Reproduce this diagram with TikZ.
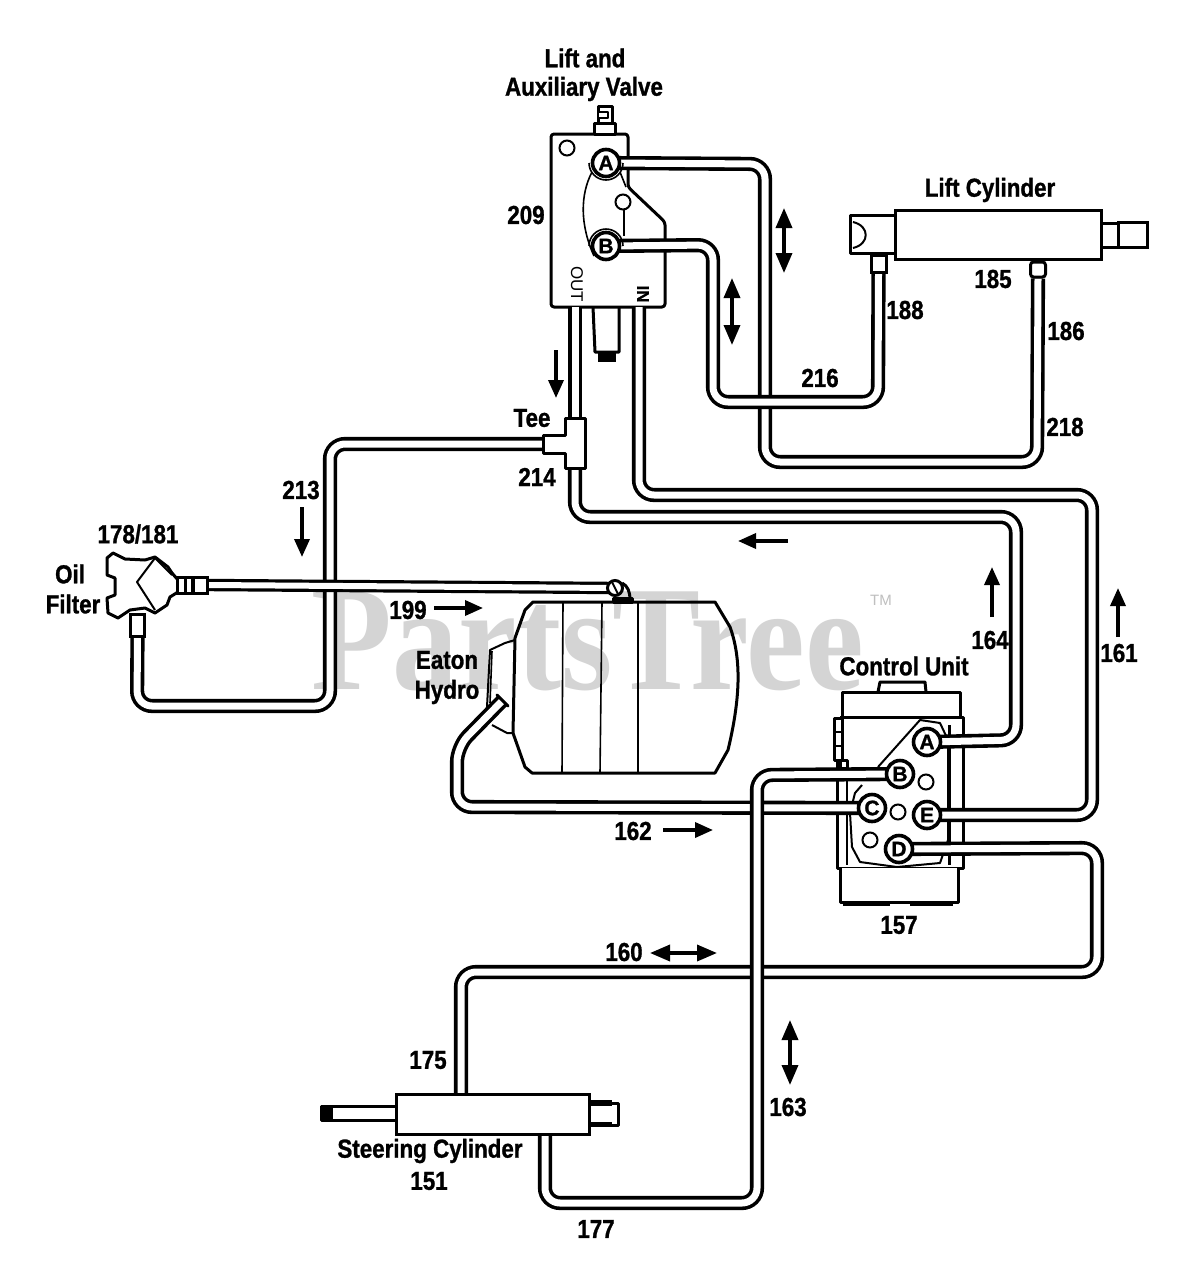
\documentclass[tikz,border=0pt]{standalone}
\usepackage{fontspec}
\usetikzlibrary{arrows.meta}
\newfontfamily\labfont{Liberation Sans}[BoldFeatures={FakeBold=1.2}]
\newfontfamily\wmfont{Liberation Serif}
\pgfdeclarelayer{wm}
\pgfdeclarelayer{bodies}
\pgfdeclarelayer{tubes}
\pgfsetlayers{wm,bodies,tubes,main}
\tikzset{
  lab/.style={font=\labfont\bfseries\fontsize{26}{28}\selectfont, xscale=.86, inner sep=0pt, text=black},
  tube/.style={draw=black, line width=3.6pt, double=white, double distance=7pt, rounded corners=15pt},
  thintube/.style={draw=black, line width=3.2pt, double=white, double distance=6pt, rounded corners=15pt},
  body/.style={draw=black, line width=3pt, line join=round},
  thinline/.style={draw=black, line width=1.6pt, line join=round},
  port/.style={circle, draw=black, line width=3.6pt, fill=white, minimum size=27pt, inner sep=0pt, font=\labfont\bfseries\fontsize{21}{21}\selectfont},
  hole/.style={circle, draw=black, line width=2pt, fill=white, minimum size=15pt, inner sep=0pt},
  fitting/.style={rectangle, draw=black, line width=3pt, fill=white, inner sep=0pt},
  flow/.style={draw=black, line width=3.5pt, -{Triangle[length=18pt,width=15pt]}},
  flowboth/.style={draw=black, line width=3.5pt, {Triangle[length=20pt,width=16pt]}-{Triangle[length=20pt,width=16pt]}},
}
\begin{document}
\begin{tikzpicture}[x=1pt,y=-1pt]
\useasboundingbox (0,0) rectangle (1203,1280);

% --- watermark
\begin{pgfonlayer}{wm}
\fill[white] (0,0) rectangle (1203,1280);
\node[inner sep=0pt, anchor=center, yscale=1.13, text=black!17, font=\wmfont\bfseries\fontsize{132}{135}\selectfont] (wm) at (588,641) {PartsTree};
\node[inner sep=0pt, text=black!25, font=\labfont\fontsize{15}{15}\selectfont] (tm) at (881,600) {TM};
\end{pgfonlayer}

\begin{pgfonlayer}{bodies}
% --- lift and auxiliary valve
\draw[body, rounded corners=3pt] (551,134) -- (628,134) -- (628,187) -- (665,222) -- (665,307) -- (551,307) -- cycle;
\draw[body, fill=white] (598,106) rectangle (612,123);
\draw[body, fill=white] (594,123) rectangle (615,134);
\draw[thinline, fill=white] (598,112) rectangle (608,118);
\draw[body] (593,307) -- (595,352) -- (619,352) -- (619,307);
\fill[black] (598,353) rectangle (616,362);
\draw[thinline] (592,172) .. controls (580,195) and (580,225) .. (594,256);
\draw[thinline] (624,210) -- (624,236);
\draw[thinline] (620,172) -- (626,187);

% --- eaton hydro tank
\draw[body] (533,602) -- (525,610) -- (515,638) -- (513,733) -- (525,767) -- (532,773) -- (715,773) -- (728,750) .. controls (740,700) and (742,660) .. (730,627) -- (715,602) -- cycle;
\draw[thinline] (563,602) -- (562,773);
\draw[thinline] (602,602) -- (600,773);
\draw[thinline] (638,602) -- (638,773);
\draw[thinline, line width=2pt] (515,640) -- (505,643) -- (490,650) -- (487,707);
\draw[thinline] (492,651) -- (490,703);
\draw[thinline, line width=2pt] (492,725) -- (507,733) -- (513,733);

% --- control unit
\draw[body] (878,692) -- (880,682) -- (925,682) -- (926,692);
\draw[body, fill=white] (842,717) -- (842,692) -- (960,692) -- (960,717);
\draw[body] (840,717) -- (963,717) -- (963,868) -- (837,868) -- (837,760);
\draw[body, fill=white] (840,868) -- (840,902) -- (958,902) -- (958,868);
\draw[draw=black, line width=4pt] (843,904) -- (890,904);
\draw[draw=black, line width=4pt] (910,904) -- (953,904);
\draw[body, fill=white] (834,718) rectangle (842,760);
\draw[thinline] (834,732) -- (842,732);
\draw[thinline] (834,746) -- (842,746);
\draw[body, fill=white] (840,760) rectangle (847,768);
\draw[body] (949,725) -- (949,865);
\draw[thinline] (847,768) -- (847,865);
\draw[thinline, line width=2pt] (878,767) -- (920,720) -- (940,723) -- (948,740) -- (948,840) -- (940,863) -- (897,867) -- (860,862) -- (852,847) -- (850,813) -- (855,793) -- (862,785);
\end{pgfonlayer}

% --- valve ports and marks
\node[hole] (vh1) at (567,148) {};
\node[hole] (vh2) at (623,202) {};
\draw[thinline] (606,163) ++(-17,0) arc (180:0:17);
\draw[thinline] (606,246) ++(-17,0) arc (180:360:17);
\node[port] (vA) at (606,163) {A};
\node[port] (vB) at (606,246) {B};
\node[inner sep=0pt, rotate=-90, font=\labfont\fontsize{17}{17}\selectfont] (tOut) at (577,284) {OUT};
\node[inner sep=0pt, rotate=-90, font=\labfont\bfseries\fontsize{17}{17}\selectfont] (tIn) at (643,294) {IN};
\coordinate (vOut) at (575,307);
\coordinate (vIn) at (639,307);

% --- tee
\draw[body, fill=white] (565,418) -- (585,418) -- (585,468) -- (565,468) -- (565,453) -- (543,453) -- (543,435) -- (565,435) -- cycle;
\coordinate (teeN) at (575,418);
\coordinate (teeS) at (575,468);
\coordinate (teeW) at (543,444);

% --- lift cylinder
\node[fitting, minimum width=206pt, minimum height=49pt] (lift) at (998,234.5) {};
\draw[body] (895,215) -- (850,215) -- (850,253) -- (895,253);
\draw[thinline, line width=2pt] (853,222) .. controls (870,226) and (870,244) .. (853,248);
\draw[body] (1101,223) -- (1118,223);
\draw[body] (1101,247) -- (1118,247);
\node[fitting, minimum width=29pt, minimum height=25pt] (liftEnd) at (1132.5,234.5) {};
\node[fitting, minimum width=15pt, minimum height=17pt] (fit188) at (878.5,263.5) {};
\node[fitting, rounded corners=3pt, minimum width=15pt, minimum height=15pt] (fit186) at (1038,269.5) {};

% --- oil filter
\draw[body, fill=white] (107,558) -- (113,553) -- (125,559) -- (145,560) -- (155,557) -- (168,567) -- (172,573) -- (178,580) -- (178,592) -- (170,597) -- (167,605) -- (155,613) -- (145,608) -- (130,610) -- (118,618) -- (108,613) -- (107,598) -- (115,595) -- (115,578) -- (107,575) -- cycle;
\draw[thinline, line width=2pt] (155,558) -- (137,582) -- (155,610);
\draw[thinline, line width=2pt] (155,558) -- (172,575);
\node[fitting, minimum width=8pt, minimum height=16pt] (ffit1) at (181,585) {};
\node[fitting, minimum width=7pt, minimum height=16pt] (ffit2) at (188.5,585) {};
\node[fitting, minimum width=14pt, minimum height=16pt] (ffit3) at (200,585) {};
\node[fitting, minimum width=14pt, minimum height=22pt] (ffit4) at (137.5,625) {};

% --- tank connections
\coordinate (tankIn) at (503,700);
\node[circle, draw=black, line width=3pt, fill=white, inner sep=0pt, minimum size=15pt] (tankTop) at (615,588) {};
\draw[body, fill=black] (613,598) rectangle (632,602);
\draw[body] (622,583) .. controls (628,586) and (630,592) .. (630,600);
\draw[thinline, line width=2pt] (612,582) -- (618,594);
\draw[body, line cap=round] (497,695) -- (508,706);

% --- control unit ports
\node[hole] (ch1) at (926,782) {};
\node[hole] (ch2) at (898,812) {};
\node[hole] (ch3) at (870,840) {};
\node[port] (cA) at (927,742) {A};
\node[port] (cB) at (900,774) {B};
\node[port] (cC) at (872,808) {C};
\node[port] (cE) at (927,815) {E};
\node[port] (cD) at (899,849) {D};

% --- steering cylinder
\node[fitting, minimum width=193pt, minimum height=40pt] (steer) at (492.5,1114) {};
\draw[body] (397,1106) -- (321,1106) -- (321,1120) -- (397,1120);
\fill[black] (321,1106) rectangle (333,1120);
\draw[body] (589,1103) -- (618,1103) -- (618,1125) -- (589,1125);
\fill[black] (589,1100) rectangle (612,1106);
\fill[black] (589,1122) rectangle (612,1127);
\coordinate (steerT) at (461,1094);
\coordinate (steerB) at (545,1134);

% --- hoses
\begin{pgfonlayer}{tubes}
\draw[tube] (vIn) -- (639,495) -- (1092,495) -- (1092,815) -- (cE.center);
\draw[tube] (vA.center) -- (765,164) -- (765,462) -- (1037,462) -- (fit186.south);
\draw[tube] (vB.center) -- (713,245) -- (713,402) -- (878,402) -- (fit188.south);
\draw[tube] (vOut) -- (teeN);
\draw[tube] (teeS) -- (575,517) -- (1016,517) -- (1016,740) -- (cA.center);
\draw[tube] (cC.center) -- (457,807) -- (457,747) -- (tankIn);
\draw[tube] (teeW) -- (330,444) -- (330,706) -- (137,706) -- (ffit4.south);
\draw[thintube] (ffit3.east) -- (tankTop.center);
\draw[tube] (cD.center) -- (1097,848) -- (1097,972) -- (461,972) -- (steerT);
\draw[tube] (cB.center) -- (757,775) -- (757,1203) -- (545,1203) -- (steerB);
\end{pgfonlayer}

% --- flow arrows
\coordinate (a1t) at (784,208); \coordinate (a1b) at (784,273);
\draw[flowboth] (a1t) -- (a1b);
\coordinate (a2t) at (732,278); \coordinate (a2b) at (732,345);
\draw[flowboth] (a2t) -- (a2b);
\coordinate (a3s) at (556,350); \coordinate (a3e) at (556,398);
\draw[flow] (a3s) -- (a3e);
\coordinate (a4s) at (302,507); \coordinate (a4e) at (302,557);
\draw[flow] (a4s) -- (a4e);
\coordinate (a5s) at (434,608); \coordinate (a5e) at (483,608);
\draw[flow] (a5s) -- (a5e);
\coordinate (a6s) at (788,541); \coordinate (a6e) at (738,541);
\draw[flow] (a6s) -- (a6e);
\coordinate (a7s) at (992,617); \coordinate (a7e) at (992,567);
\draw[flow] (a7s) -- (a7e);
\coordinate (a8s) at (1118,637); \coordinate (a8e) at (1118,588);
\draw[flow] (a8s) -- (a8e);
\coordinate (a9s) at (663,830); \coordinate (a9e) at (713,830);
\draw[flow] (a9s) -- (a9e);
\coordinate (a10s) at (650,953); \coordinate (a10e) at (717,953);
\draw[flowboth] (a10s) -- (a10e);
\coordinate (a11s) at (790,1020); \coordinate (a11e) at (790,1085);
\draw[flowboth] (a11s) -- (a11e);

% --- labels
\node[lab] (l1) at (585,58) {Lift and};
\node[lab] (l2) at (584,89) {Auxiliary Valve};
\node[lab] (l3) at (526,215) {209};
\node[lab] (l4) at (532,418) {Tee};
\node[lab] (l5) at (537,477) {214};
\node[lab] (l6) at (301,490) {213};
\node[lab] (l7) at (138,534) {178/181};
\node[lab] (l8) at (70,574) {Oil};
\node[lab] (l9) at (73,604) {Filter};
\node[lab] (l10) at (408,610) {199};
\node[lab] (l11) at (447,660) {Eaton};
\node[lab] (l12) at (447,692) {Hydro};
\node[lab] (l13) at (633,831) {162};
\node[lab] (l14) at (904,666) {Control Unit};
\node[lab] (l15) at (899,925) {157};
\node[lab] (l16) at (990,640) {164};
\node[lab] (l17) at (1119,653) {161};
\node[lab] (l18) at (624,952) {160};
\node[lab] (l19) at (788,1107) {163};
\node[lab] (l20) at (428,1060) {175};
\node[lab] (l21) at (430,1151) {Steering Cylinder};
\node[lab] (l22) at (429,1181) {151};
\node[lab] (l23) at (596,1229) {177};
\node[lab] (l24) at (993,279) {185};
\node[lab] (l25) at (905,310) {188};
\node[lab] (l26) at (1066,331) {186};
\node[lab] (l27) at (820,378) {216};
\node[lab] (l28) at (1065,427) {218};
\node[lab] (l29) at (990,190) {Lift Cylinder};
\end{tikzpicture}
\end{document}
